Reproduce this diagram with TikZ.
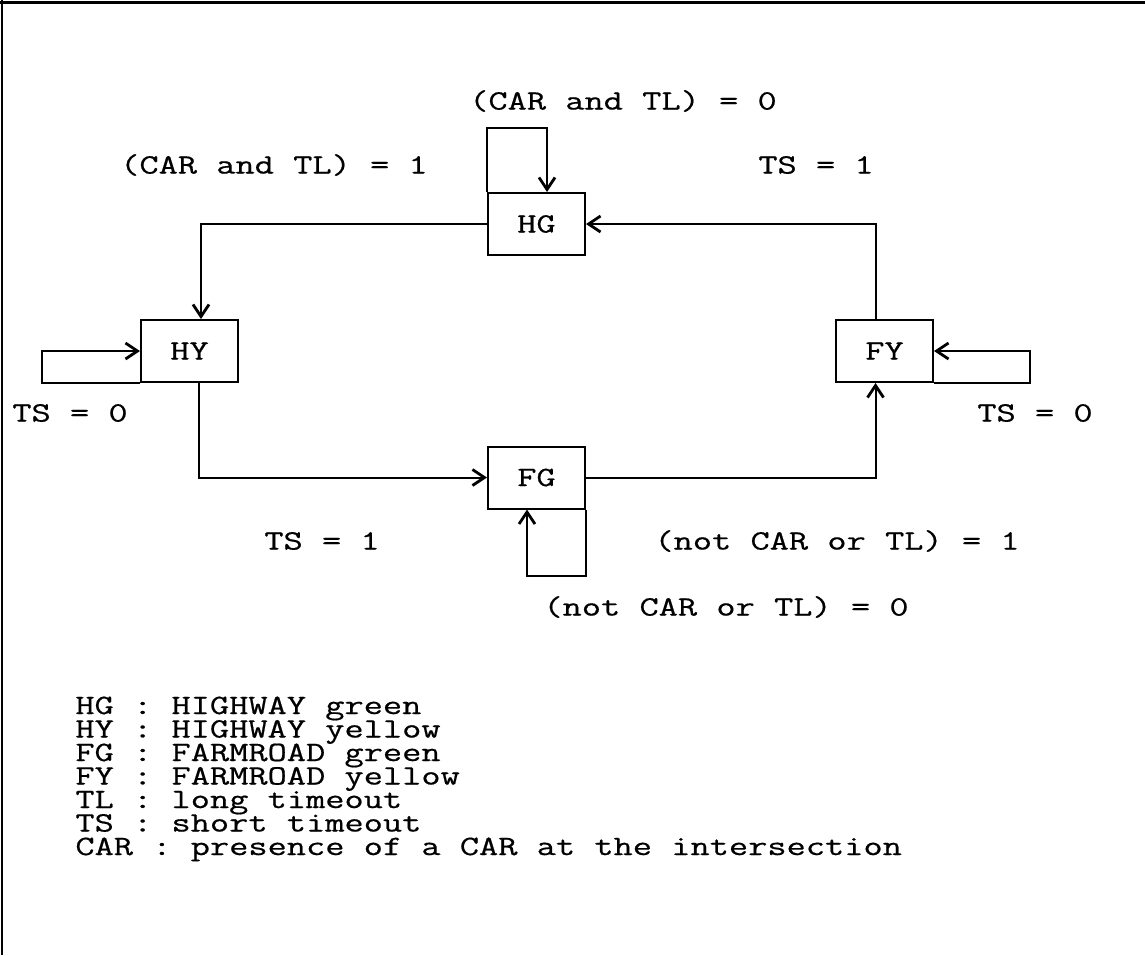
\documentclass[tikz,border=0pt]{standalone}
\usepackage{fontspec}
\setmonofont{Latin Modern Mono}[FakeStretch=1.333,FakeBold=0.6]
\usetikzlibrary{arrows.meta}
\begin{document}
\begin{tikzpicture}[x=0.5pt,y=-0.5pt,
  every node/.style={font=\ttfamily\fontsize{14}{16}\selectfont},
  state/.style={draw, line width=1pt, minimum width=48.5pt, minimum height=31pt, inner sep=0pt},
  lbl/.style={inner sep=0pt},
  legend/.style={inner sep=0pt, anchor=base west, text height=8pt, text depth=2.5pt},
  edge/.style={line width=1pt, -{Straight Barb[length=6pt,width=8pt,line width=1.4pt]}}]
\useasboundingbox (0,0) rectangle (1145,955);
\draw[line width=1.5pt] (0,2) -- (1145,2);
\draw[line width=1pt] (2,0) -- (2,955);

\node[state] (HG) at (536.5,224) {HG};
\node[state] (HY) at (189.5,351) {HY};
\node[state] (FY) at (884.5,351) {FY};
\node[state] (FG) at (536.5,477.5) {FG};

\draw[edge] (HG.west) -| ([xshift=5.75pt]HY.north);
\draw[edge] (HG.north west) -- ++(0,-64) -| ([xshift=5.25pt]HG.north);
\draw[edge] ([xshift=-4.5pt]FY.north) |- (HG.east);
\draw[edge] (HY.south west) -- ++(-98,0) |- (HY.west);
\draw[edge] ([xshift=4.75pt]HY.south) |- (FG.west);
\draw[edge] (FG.east) -| ([xshift=-4.5pt]FY.south);
\draw[edge] (FG.south east) -- ++(0,66) -| ([xshift=-4.75pt]FG.south);
\draw[edge] (FY.south east) -- ++(96,0) |- (FY.east);

\node[lbl] (l1) at (623,101) {(CAR and TL) = 0};
\node[lbl] (l2) at (274,165) {(CAR and TL) = 1};
\node[lbl] (l3) at (816,165) {TS = 1};
\node[lbl] (l4) at (70,413) {TS = 0};
\node[lbl] (l5) at (1035,413) {TS = 0};
\node[lbl] (l6) at (322,541) {TS = 1};
\node[lbl] (l7) at (837,541) {(not CAR or TL) = 1};
\node[lbl] (l8) at (726,607) {(not CAR or TL) = 0};

\node[legend] (g1) at (75,714) {HG : HIGHWAY green};
\node[legend] (g2) at (75,737.5) {HY : HIGHWAY yellow};
\node[legend] (g3) at (75,761) {FG : FARMROAD green};
\node[legend] (g4) at (75,784.5) {FY : FARMROAD yellow};
\node[legend] (g5) at (75,808) {TL : long timeout};
\node[legend] (g6) at (75,831.5) {TS : short timeout};
\node[legend] (g7) at (75,855) {CAR : presence of a CAR at the intersection};
\end{tikzpicture}
\end{document}
